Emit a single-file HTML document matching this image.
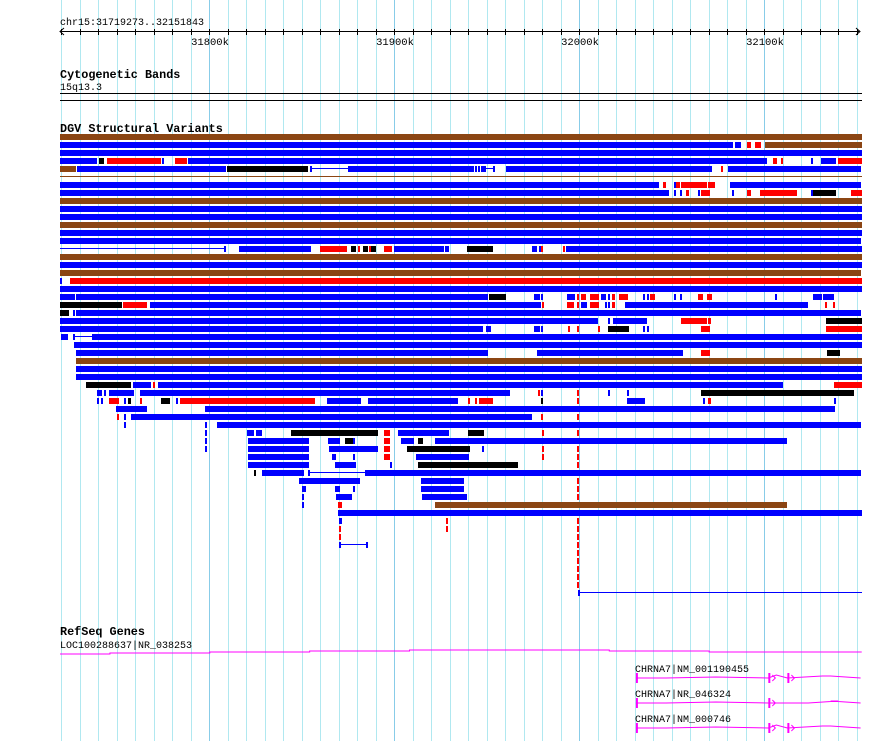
<!DOCTYPE html>
<html><head><meta charset="utf-8"><style>
html,body{margin:0;padding:0;background:#fff;}
svg{display:block;}
text{font-family:"Liberation Mono","DejaVu Sans Mono",monospace;}
</style></head><body>
<svg id="c" width="890" height="741" viewBox="0 0 890 741" xmlns="http://www.w3.org/2000/svg">
<g id="grid"></g>
<g id="ruler">
<text x="60" y="25" font-size="10">chr15:31719273..32151843</text>
</g>
<g>
<text x="60" y="78" font-size="11.8" font-weight="bold">Cytogenetic Bands</text>
<text x="60" y="90" font-size="10">15q13.3</text>
<rect x="60" y="93" width="802" height="1" fill="#000"/>
<rect x="60" y="100" width="802" height="1" fill="#000"/>
</g>
<text x="60" y="132" font-size="11.8" font-weight="bold">DGV Structural Variants</text>
<g id="dgv"></g>
<g id="genes">
<text x="60" y="635" font-size="11.8" font-weight="bold">RefSeq Genes</text>
<text x="60" y="648" font-size="10">LOC100288637|NR_038253</text>
<text x="635" y="672" font-size="10">CHRNA7|NM_001190455</text>
<text x="635" y="697" font-size="10">CHRNA7|NR_046324</text>
<text x="635" y="722" font-size="10">CHRNA7|NM_000746</text>
</g>
</svg>
<script>
// view: chr15 31719.273 kb .. 32151.843 kb ; values below are kb offsets from view start
const viewStartKb = 31719.273;
const viewSpanKb = 432.57;
const majorTicksKb = [31800, 31900, 32000, 32100];
const tickLabels = ["31800k", "31900k", "32000k", "32100k"];
const F = 433.5;
// DGV rows: [type, startKb, endKb]; b=blue r=red k=black n=brown l=line h=thin-brown
const rows = [
[["n",0,F]],
[["b",0,363.8],["b",364.8,368.1],["r",371.3,373.5],["r",375.6,378.9],["n",381.1,F]],
[["b",0,F]],
[["b",0,20.0],["k",21.1,23.8],["r",25.4,54.6],["b",55.1,56.2],["r",62.2,68.6],["b",69.2,382.1],["r",385.4,387.5],["r",389.7,390.8],["b",405.9,407.0],["b",411.3,419.4],["r",420.5,F]],
[["n",0,8.6],["b",9.2,89.7],["k",90.3,134.0],["b",135.1,136.2],["l",136.2,155.7],["b",155.7,223.8],["b",224.3,225.4],["b",225.9,227.0],["b",227.6,230.3],["l",230.3,234.0],["b",234.0,235.1],["b",241.1,352.4],["r",357.3,358.4],["b",361.1,432.9]],
[["h",0,F]],
[["b",0,323.8],["r",325.9,327.5],["b",331.9,332.9],["r",332.9,335.1],["r",335.7,349.7],["r",350.2,354.0],["b",362.1,432.9]],
[["b",0,329.2],["b",331.9,332.9],["b",335.1,336.2],["r",338.4,340.0],["b",344.8,345.9],["r",346.5,351.3],["b",363.2,364.3],["r",371.3,373.5],["r",378.4,398.3],["b",405.9,407.0],["k",407.0,419.4],["r",427.5,F]],
[["n",0,F]],
[["b",0,F]],
[["b",0,F]],
[["n",0,F]],
[["b",0,F]],
[["b",0,432.9]],
[["l",0,88.6],["b",88.6,89.7],["b",96.7,135.7],["r",140.5,155.1],["k",157.3,160.0],["r",161.1,162.2],["k",163.8,166.5],["r",167.0,168.1],["k",168.1,170.8],["r",175.1,179.4],["b",180.5,207.6],["b",208.1,210.3],["k",220.0,234.0],["b",255.1,257.8],["b",258.9,259.4],["r",260.0,261.1],["r",271.9,273.0],["b",273.5,F]],
[["n",0,F]],
[["b",0,F]],
[["n",0,432.9]],
[["b",0,1.1],["r",5.4,F]],
[["b",0,F]],
[["b",0,8.1],["b",8.6,231.3],["k",231.9,241.1],["b",256.2,259.4],["b",260.0,261.1],["b",274.0,278.4],["r",279.4,280.5],["r",281.6,284.3],["r",286.5,291.3],["b",292.4,295.1],["b",296.2,297.3],["r",298.4,300.0],["r",302.1,307.0],["b",315.1,316.2],["b",317.3,318.4],["r",318.9,321.6],["b",331.9,332.9],["b",335.1,336.2],["r",344.8,347.5],["r",349.7,352.4],["b",386.5,387.5],["b",407.0,411.9],["b",412.4,418.3]],
[["k",0,33.5],["r",34.1,47.0],["b",48.6,260.0],["r",260.5,261.6],["r",274.0,277.8],["r",279.4,280.5],["b",281.6,284.8],["r",286.5,291.3],["b",294.6,295.7],["b",296.2,297.3],["r",298.4,300.0],["b",305.4,404.3],["r",413.5,414.6],["r",417.8,418.9]],
[["k",0,4.9],["b",7.0,8.1],["b",8.6,432.9]],
[["b",0,290.8],["b",296.2,297.3],["b",298.9,317.3],["r",335.7,349.7],["r",350.2,351.9],["k",414.0,F]],
[["b",0,228.6],["b",230.3,233.0],["b",256.2,259.4],["b",260.0,261.1],["r",274.6,275.7],["r",279.4,280.5],["r",290.8,291.9],["k",296.2,307.5],["b",315.1,316.2],["b",317.3,318.4],["r",346.5,351.3],["r",414.0,F]],
[["b",0.5,4.3],["b",7.0,8.1],["l",8.1,17.3],["b",17.3,F]],
[["b",7.6,F]],
[["b",8.6,231.3],["b",257.8,336.7],["r",346.5,351.3],["k",414.6,421.6]],
[["n",8.6,F]],
[["b",8.6,F]],
[["b",8.6,F]],
[["k",14.1,38.4],["b",39.5,49.2],["r",50.3,51.3],["b",53.0,390.8],["r",418.3,F]],
[["b",20.0,22.7],["b",23.8,24.9],["b",26.5,40.0],["b",43.2,243.2],["r",258.4,259.4],["b",260.0,261.1],["r",279.4,280.5],["b",296.2,297.3],["b",306.5,307.5],["k",346.5,429.2]],
[["b",20.0,21.1],["b",22.2,23.2],["r",26.5,31.9],["b",34.6,35.7],["k",36.8,38.4],["r",43.2,44.3],["k",54.6,59.5],["b",62.7,63.8],["r",64.9,137.8],["b",144.3,162.7],["b",166.5,215.1],["r",220.5,221.6],["r",224.3,225.4],["r",226.5,234.0],["k",260.0,261.1],["r",279.4,280.5],["b",306.5,316.2],["b",347.5,348.6],["r",350.2,351.9],["b",418.3,419.4]],
[["b",30.3,47.0],["b",78.4,418.9]],
[["r",30.8,31.9],["b",34.6,35.7],["b",38.4,255.1],["r",260.0,261.1],["r",279.4,280.5]],
[["b",34.6,35.7],["b",78.4,79.5],["b",84.9,432.9]],
[["b",78.4,79.5],["b",101.1,104.9],["b",105.9,109.2],["k",124.9,171.9],["r",175.1,178.4],["b",182.7,210.3],["k",220.5,229.2],["r",260.5,261.6],["r",279.4,280.5]],
[["b",78.4,79.5],["b",101.6,134.6],["b",144.9,151.3],["k",154.0,158.4],["b",158.4,159.4],["r",175.1,178.4],["b",184.3,191.3],["k",193.5,196.2],["b",202.7,392.9]],
[["b",78.4,79.5],["b",101.6,134.6],["b",145.4,171.9],["r",175.1,178.4],["k",187.6,221.6],["b",228.1,229.2],["r",260.5,261.6],["r",279.4,280.5]],
[["b",101.6,134.6],["b",147.0,149.2],["b",158.4,159.4],["r",175.1,178.4],["b",192.4,221.1],["r",260.5,261.6],["r",279.4,280.5]],
[["b",101.6,134.6],["b",148.6,160.0],["b",178.4,179.4],["k",193.5,247.5],["r",279.4,280.5]],
[["k",104.9,105.9],["b",109.2,131.9],["b",134.0,135.1],["l",135.1,164.9],["b",164.9,432.9]],
[["b",129.2,162.2],["b",195.1,218.4],["r",279.4,280.5]],
[["b",130.8,133.0],["b",148.6,151.3],["b",158.4,159.4],["b",195.1,218.4],["r",279.4,280.5]],
[["b",130.8,132.0],["b",149.2,157.8],["b",195.7,220.0],["r",279.4,280.5]],
[["b",130.8,132.0],["r",150.3,152.4],["n",202.7,392.9]],
[["b",150.3,F]],
[["b",150.8,152.4],["r",208.6,209.7],["r",279.4,280.5]],
[["r",150.8,151.9],["r",208.6,209.7],["r",279.4,280.5]],
[["r",150.8,151.9],["r",279.4,280.5]],
[["b",150.8,151.9],["l",151.9,165.4],["b",165.4,166.5],["r",279.4,280.5]],
[["r",279.4,280.5]],
[["r",279.4,280.5]],
[["r",279.4,280.5]],
[["r",279.4,280.5]],
[["r",279.4,280.5]],
[["b",280.0,281.1],["l",281.1,F]]
];
// gene LOC100288637 arch (kb offset, px y)
const locKb = [0, 27, 81, 135, 189, 292, 297, 351, 433.5];
const locLevel = [4, 3, 2, 1, 0, 0, 1, 2, 2];
// CHRNA7 transcript structure (kb offsets)
const chrna7Kb = [311.4, 383.0, 393.3, 432.9];

const NS = "http://www.w3.org/2000/svg";
const X0 = 60, PX = 800 / viewSpanKb;
function xOf(kb){ return X0 + kb * PX; }
function xAbs(kbAbs){ return xOf(kbAbs - viewStartKb); }
function mk(tag, attrs, parent){
  const e = document.createElementNS(NS, tag);
  for (const k in attrs) e.setAttribute(k, attrs[k]);
  parent.appendChild(e); return e;
}
const grid = document.getElementById('grid');
for (let k = 31720; k <= 32150; k += 10){
  const major = k % 100 === 0;
  const ln = mk('rect', {x: Math.round(xAbs(k)), y: 0, width: 1, height: 741, fill: major ? '#88cce8' : '#b0e8f0'}, grid);
  
  
}
const ruler = document.getElementById('ruler');
const axis = mk('rect', {x: 60, y: 31, width: 799, height: 1, fill: '#000'}, ruler);


const arL = mk('path', {d: 'M64 28 L60 31.5 L64 35', stroke: '#000', fill: 'none'}, ruler);


const arR = mk('path', {d: 'M856 28 L860 31.5 L856 35', stroke: '#000', fill: 'none'}, ruler);


for (let k = 31720; k <= 32150; k += 10){
  const t = mk('rect', {x: Math.round(xAbs(k)), y: 29, width: 1, height: 6, fill: '#000'}, ruler);
  
  
}
majorTicksKb.forEach((k, i) => {
  const t = mk('text', {x: Math.round(xAbs(k)) + 1, y: 45, 'font-size': 10.5, 'text-anchor': 'middle'}, ruler);
  t.textContent = tickLabels[i];
  
  
});
const colors = {b: '#0000ff', r: '#ff0000', k: '#000000', n: '#8b4513'};
const dgv = document.getElementById('dgv');
rows.forEach((segs, i) => {
  const y = 134 + i * 8;
  segs.forEach(s => {
    const x1 = Math.round(xOf(s[1])), x2 = Math.round(xOf(s[2]));
    const w = Math.max(2, x2 - x1);
    let e;
    if (s[0] === 'l') e = mk('rect', {x: x1, y: y + 2, width: w, height: 1, fill: '#0000ff'}, dgv);
    else if (s[0] === 'h') e = mk('rect', {x: x1, y: y + 2, width: w, height: 1, fill: '#8b4513'}, dgv);
    else e = mk('rect', {x: x1, y: y, width: w, height: 6, fill: colors[s[0]]}, dgv);
    
    
  });
});
const genes = document.getElementById('genes');
let pts = [];
for (let i = 0; i < locKb.length - 1; i++){
  const y = 650 + locLevel[i];
  pts.push(xOf(locKb[i]) + ',' + y, xOf(locKb[i + 1]) + ',' + y);
}
const loc = mk('polyline', {points: pts.join(' '), stroke: '#ff00ff', fill: 'none', 'stroke-width': 1}, genes);


[678, 703, 728].forEach((gy, i) => {
  const g = mk('g', {}, genes);
  
  
  const a = xOf(chrna7Kb[0]), e1 = xOf(chrna7Kb[1]), e2 = xOf(chrna7Kb[2]), b = xOf(chrna7Kb[3]);
  const p = (i === 1)
    ? `M${a} ${gy} L${a+30} ${gy} L${a+80} ${gy-1} L${e1} ${gy} L${e1+40} ${gy} L${e1+70} ${gy-2} L${b-30} ${gy-2} L${b} ${gy}`
    : `M${a} ${gy} L${a+30} ${gy} L${a+80} ${gy-1} L${e1} ${gy} L${e1+8} ${gy-3} L${e2} ${gy} L${e2+35} ${gy-2} L${b-30} ${gy-2} L${b} ${gy}`;
  mk('path', {d: p, stroke: '#ff00ff', fill: 'none'}, g);
  mk('rect', {x: a, y: gy - 5, width: 2, height: 10, fill: '#ff00ff'}, g);
  mk('rect', {x: e1, y: gy - 5, width: 2, height: 10, fill: '#ff00ff'}, g);
  mk('path', {d: `M${e1+4} ${gy-3} L${e1+7} ${gy} L${e1+4} ${gy+3}`, stroke: '#ff00ff', fill: 'none'}, g);
  if (i !== 1){
    mk('rect', {x: e2, y: gy - 5, width: 2, height: 10, fill: '#ff00ff'}, g);
    mk('path', {d: `M${e2+4} ${gy-3} L${e2+7} ${gy} L${e2+4} ${gy+3}`, stroke: '#ff00ff', fill: 'none'}, g);
  }
});
</script>
</body></html>
